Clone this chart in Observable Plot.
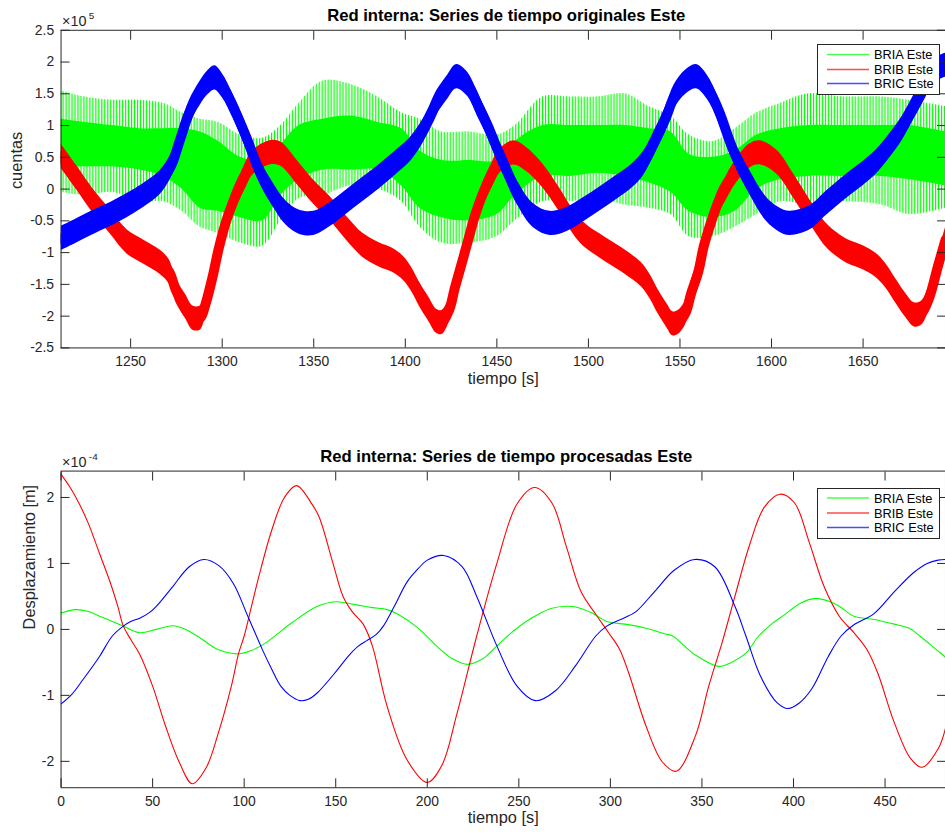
<!DOCTYPE html>
<html><head><meta charset="utf-8">
<script src="https://cdn.jsdelivr.net/npm/d3@7"></script>
<script src="https://cdn.jsdelivr.net/npm/@observablehq/plot@0.6"></script>
<style>
html,body{margin:0;padding:0;background:#fff;overflow:hidden;}
#wrap{position:relative;width:945px;height:837px;overflow:hidden;font-family:"Liberation Sans",Arial,sans-serif;}
#wrap svg{display:block;}
.legend{position:absolute;background:#fff;border:1px solid #262626;box-sizing:border-box;}
</style></head><body><div id="wrap"></div>
<script>
// ---------- series names / colours ----------
const seriesNames = ["BRIA Este", "BRIB Este", "BRIC Este"];
const seriesColors = ["#00ff00", "#ff0000", "#0000ff"];

// ---------- top panel: raw counts (units of 1e5) ----------
const topTitle = "Red interna: Series de tiempo originales Este";
const topXTicks = [1250, 1300, 1350, 1400, 1450, 1500, 1550, 1600, 1650];
const topYTicks = [-2.5, -2, -1.5, -1, -0.5, 0, 0.5, 1, 1.5, 2, 2.5];

const topRedT = [1212,1221,1230,1239,1248,1257,1266,1271,1275,1280,1284,1288,1291,1295,1298,1302,1306,1310,1317,1326,1332,1341,1350,1359,1368,1377,1386,1393,1399,1404,1408,1413,1417,1420,1424,1427,1431,1435,1438,1442,1447,1451,1459,1466,1475,1484,1493,1499,1506,1513,1520,1529,1534,1538,1543,1546,1549,1553,1556,1560,1563,1567,1571,1575,1579,1588,1594,1603,1612,1621,1630,1636,1642,1650,1657,1662,1668,1673,1678,1682,1686,1691,1695];
const topRedV = [0.52,0.16,-0.21,-0.52,-0.83,-0.99,-1.15,-1.3,-1.61,-1.85,-2.03,-2.03,-1.8,-1.35,-0.95,-0.52,-0.2,0.05,0.42,0.57,0.55,0.26,-0.05,-0.31,-0.62,-0.89,-1.04,-1.12,-1.25,-1.45,-1.67,-1.9,-2.08,-2.1,-1.9,-1.56,-1.15,-0.73,-0.42,-0.1,0.2,0.42,0.57,0.47,0.21,-0.16,-0.57,-0.75,-0.89,-1.02,-1.15,-1.35,-1.55,-1.77,-2.0,-2.12,-2.1,-1.95,-1.65,-1.3,-0.9,-0.52,-0.2,0.0,0.21,0.52,0.57,0.42,0.05,-0.36,-0.73,-0.88,-0.99,-1.08,-1.2,-1.35,-1.61,-1.82,-1.98,-1.95,-1.72,-1.2,-0.8];

const topBlueT = [1212,1221,1230,1239,1248,1257,1266,1272,1277,1282,1288,1292,1296,1300,1306,1313,1320,1328,1335,1342,1350,1359,1368,1377,1386,1395,1402,1408,1413,1417,1423,1428,1434,1440,1445,1450,1455,1461,1470,1479,1488,1497,1506,1515,1524,1530,1536,1542,1547,1553,1559,1565,1571,1579,1588,1597,1604,1610,1621,1630,1639,1648,1657,1665,1671,1677,1682,1687,1691,1695];
const topBlueV = [-0.78,-0.65,-0.52,-0.4,-0.26,-0.1,0.1,0.36,0.78,1.2,1.51,1.67,1.75,1.63,1.3,0.83,0.31,-0.1,-0.38,-0.52,-0.54,-0.4,-0.2,0.0,0.2,0.42,0.6,0.83,1.1,1.35,1.6,1.77,1.65,1.3,1.0,0.65,0.32,-0.05,-0.42,-0.54,-0.48,-0.33,-0.16,0.02,0.21,0.4,0.73,1.1,1.46,1.68,1.77,1.6,1.25,0.62,0.11,-0.31,-0.48,-0.54,-0.45,-0.22,0.0,0.2,0.42,0.7,0.94,1.25,1.51,1.78,1.9,1.95];

// noise half-amplitude of the thick red / blue traces (1e5 units)
const topTraceNoise = 0.19;

// green: dense core envelope and spike envelope
const topGreenT = [1212,1225,1240,1255,1268,1278,1288,1298,1310,1322,1332,1342,1355,1370,1385,1398,1408,1420,1435,1450,1460,1475,1490,1505,1520,1533,1545,1555,1568,1580,1592,1605,1620,1640,1660,1675,1695];
const topGreenCoreLo = [0.35,0.35,0.35,0.3,0.2,0.0,-0.3,-0.35,-0.45,-0.5,-0.1,0.15,0.3,0.3,0.3,0.05,-0.3,-0.45,-0.5,-0.4,-0.1,0.2,0.2,0.25,0.2,0.1,-0.05,-0.35,-0.45,-0.35,0.0,0.15,0.2,0.2,0.2,0.15,0.05];
const topGreenCoreHi = [1.1,1.05,1.0,0.95,0.95,0.95,0.9,0.75,0.5,0.45,0.7,1.0,1.1,1.15,1.05,0.95,0.6,0.45,0.45,0.45,0.75,1.0,1.0,1.0,1.0,0.95,0.9,0.55,0.5,0.6,0.85,0.95,1.0,1.0,1.0,1.0,0.9];
const topGreenSpikeLo = [-0.05,-0.1,-0.05,-0.2,-0.2,-0.35,-0.6,-0.7,-0.85,-0.9,-0.5,-0.15,-0.1,0.05,0.0,-0.2,-0.6,-0.85,-0.85,-0.75,-0.5,-0.2,-0.2,-0.15,-0.25,-0.3,-0.4,-0.75,-0.75,-0.6,-0.4,-0.2,-0.25,-0.2,-0.25,-0.4,-0.3];
const topGreenSpikeHi = [1.55,1.45,1.4,1.4,1.35,1.2,1.1,1.05,0.85,0.8,1.0,1.35,1.7,1.65,1.45,1.2,1.1,0.9,0.9,0.85,1.0,1.45,1.45,1.45,1.5,1.3,1.15,0.85,0.75,0.95,1.2,1.35,1.5,1.45,1.45,1.4,1.3];

// ---------- bottom panel: processed displacement (units of 1e-4 m) ----------
const botTitle = "Red interna: Series de tiempo procesadas Este";
const botXTicks = [0, 50, 100, 150, 200, 250, 300, 350, 400, 450];
const botYTicks = [-2, -1, 0, 1, 2];

const botGreenT = [0,8,15,21,28,34,43,52,61,68,76,86,97,104,112,126,140,150,160,170,178,184,195,205,214,222,230,238,246,254,262,268,276,281,290,298,308,319,330,334,346,359,366,374,381,388,395,404,412,419,425,433,444,455,463,469,479,483];
const botGreenV = [0.25,0.3,0.27,0.2,0.12,0.05,-0.05,0.0,0.055,0.0,-0.13,-0.31,-0.37,-0.32,-0.2,0.1,0.35,0.42,0.38,0.33,0.3,0.23,0.02,-0.25,-0.45,-0.53,-0.45,-0.25,-0.05,0.12,0.25,0.32,0.35,0.34,0.25,0.12,0.08,0.02,-0.07,-0.1,-0.38,-0.56,-0.5,-0.36,-0.1,0.08,0.22,0.4,0.47,0.43,0.35,0.2,0.15,0.08,0.02,-0.1,-0.33,-0.42];

const botRedT = [0,5,10,15,21,27,31,34,38,43,50,57,64.5,71.7,79,86,93,97,100,104,108,115,122,128.6,137,141,148.5,154,159,165,170,178,189,200,208,216,227,238,249,258.6,268,276,284,292,299,305,310,319.4,328.4,336,346.5,353.7,361,368,376,384,392.6,400.5,408.6,416.7,425,433,440,446,455,464,470.3,479,483];
const botRedV = [2.35,2.15,1.9,1.6,1.15,0.7,0.35,0.05,-0.15,-0.38,-0.86,-1.46,-2.01,-2.34,-2.11,-1.56,-0.86,-0.36,-0.1,0.35,0.8,1.5,2.0,2.18,1.9,1.7,1.0,0.5,0.27,0.08,-0.25,-1.16,-1.98,-2.32,-2.06,-1.3,-0.1,1.0,1.9,2.15,1.92,1.25,0.57,0.23,-0.05,-0.3,-0.66,-1.46,-2.01,-2.15,-1.61,-0.86,-0.2,0.5,1.28,1.85,2.05,1.92,1.32,0.65,0.2,-0.05,-0.3,-0.66,-1.41,-1.96,-2.09,-1.81,-1.5];

const botBlueT = [0,6,12,21,28,34,38,43,48,52,61,70,78,86,94,102,110,115,120,125,130.5,135,140,151,157,162,167,172,176,182,189,195,200,209,219,227,238,249,259,270,281,292,298,303,308,314,324,335,346,357,368,374,382,391,397,403,410,419,426,433,444,455,466,473,479,483];
const botBlueV = [-1.13,-0.98,-0.76,-0.41,-0.1,0.05,0.12,0.17,0.25,0.35,0.65,0.95,1.06,0.97,0.7,0.2,-0.31,-0.6,-0.86,-1.0,-1.08,-1.06,-0.96,-0.61,-0.4,-0.26,-0.17,-0.08,0.05,0.35,0.72,0.92,1.05,1.12,0.95,0.5,-0.25,-0.86,-1.08,-0.93,-0.55,-0.1,0.05,0.12,0.18,0.27,0.57,0.9,1.06,0.95,0.35,-0.1,-0.71,-1.11,-1.2,-1.12,-0.9,-0.41,-0.1,0.07,0.24,0.57,0.87,1.0,1.05,1.06];

// ---------- helpers ----------
const FONT = '"Liberation Sans", Arial, Helvetica, sans-serif';
const INK = "#262626";
const zip = (T, V) => T.map((t, i) => ({t, v: V[i]}));
const fmt = d => String(d);

function frameAndAxes(xTicks, yTicks) {
  return [
    Plot.axisX({anchor: "bottom", ticks: xTicks, tickSize: -9, tickPadding: 17, tickFormat: fmt, label: null, fontSize: 14}),
    Plot.axisX({anchor: "top", ticks: xTicks, tickSize: -9, tickFormat: () => "", label: null}),
    Plot.axisY({anchor: "left", ticks: yTicks, tickSize: -9, tickPadding: 16, tickFormat: fmt, label: null, fontSize: 14}),
    Plot.axisY({anchor: "right", ticks: yTicks, tickSize: -9, tickFormat: () => "", label: null}),
    Plot.frame({stroke: INK, strokeWidth: 1})
  ];
}
function decorations(title, expo, xLabel, yLabel, yLabelDx) {
  return [
    Plot.text([title], {text: d => d, frameAnchor: "top", dx: 3, dy: -9, lineAnchor: "bottom", fontWeight: "bold", fontSize: 16.8, fill: "#000"}),
    Plot.text(["×10"], {text: d => d, frameAnchor: "top-left", dx: 1, dy: -4, textAnchor: "start", lineAnchor: "bottom", fontSize: 14.5}),
    Plot.text([expo], {text: d => d, frameAnchor: "top-left", dx: 28, dy: -11, textAnchor: "start", lineAnchor: "bottom", fontSize: 10}),
    Plot.text([xLabel], {text: d => d, frameAnchor: "bottom", dy: 36, lineAnchor: "bottom", fontSize: 16.5}),
    Plot.text([yLabel], {text: d => d, frameAnchor: "left", dx: yLabelDx, rotate: -90, lineAnchor: "bottom", fontSize: 16.5})
  ];
}
// vertical stripe pattern that mimics the green trace's dense spikes
function addStripes(svg, id, color, period, width) {
  const defs = d3.select(svg).insert("defs", ":first-child");
  const p = defs.append("pattern").attr("id", id).attr("patternUnits", "userSpaceOnUse")
    .attr("width", period).attr("height", 8);
  p.append("rect").attr("x", 0).attr("y", 0).attr("width", width).attr("height", 8).attr("fill", color);
}

const wrap = document.getElementById("wrap");
const PW = 952; // axes extend a little past the window's right edge

// ---------- top plot ----------
const green = topGreenT.map((t, i) => ({t, lo: topGreenCoreLo[i], hi: topGreenCoreHi[i], slo: topGreenSpikeLo[i], shi: topGreenSpikeHi[i]}));
const red = zip(topRedT, topRedV);
const blue = zip(topBlueT, topBlueV);

function thickTrace(data, color) {
  return [
    Plot.areaY(data, {x: "t", y1: d => d.v - topTraceNoise, y2: d => d.v + topTraceNoise, fill: color, curve: "catmull-rom", clip: true}),
    Plot.line(data, {x: "t", y: "v", stroke: color, strokeWidth: 10, curve: "catmull-rom", clip: true})
  ];
}

const topPlot = Plot.plot({
  width: PW, height: 418, marginTop: 30, marginBottom: 68, marginLeft: 61, marginRight: 0,
  x: {domain: [1212, 1695]}, y: {domain: [-2.5, 2.5]},
  style: {fontFamily: FONT, color: INK, background: "transparent", overflow: "visible"},
  marks: [
    Plot.areaY(green, {x: "t", y1: "slo", y2: "shi", fill: "url(#gStripes)", curve: "catmull-rom", clip: true}),
    Plot.areaY(green, {x: "t", y1: "lo", y2: "hi", fill: seriesColors[0], curve: "catmull-rom", clip: true}),
    ...thickTrace(red, seriesColors[1]),
    ...thickTrace(blue, seriesColors[2]),
    ...frameAndAxes(topXTicks, topYTicks),
    ...decorations(topTitle, "5", "tiempo [s]", "cuentas", -39)
  ]
});
addStripes(topPlot, "gStripes", seriesColors[0], 3, 1.2);
wrap.appendChild(topPlot);

// ---------- bottom plot ----------
const botSeries = [zip(botGreenT, botGreenV), zip(botRedT, botRedV), zip(botBlueT, botBlueV)];
const botPlot = Plot.plot({
  width: PW, height: 419, marginTop: 56, marginBottom: 44, marginLeft: 61, marginRight: 0,
  x: {domain: [0, 483]}, y: {domain: [-2.4, 2.4]},
  style: {fontFamily: FONT, color: INK, background: "transparent", overflow: "visible"},
  marks: [
    ...botSeries.map((s, i) => Plot.line(s, {x: "t", y: "v", stroke: seriesColors[i], strokeWidth: 1.1, curve: "catmull-rom", clip: true})),
    ...frameAndAxes(botXTicks, botYTicks),
    ...decorations(botTitle, "-4", "tiempo [s]", "Desplazamiento [m]", -26)
  ]
});
wrap.appendChild(botPlot);

// ---------- legends ----------
function legend(left, top, rows) {
  const div = d3.select(wrap).append("div").attr("class", "legend")
    .style("left", left + "px").style("top", top + "px").style("width", "123px").style("height", "51px");
  const svg = div.append("svg").attr("width", 121).attr("height", 49).style("position", "absolute").style("left", "0").style("top", "0");
  seriesNames.forEach((name, i) => {
    const y = rows[i];
    svg.append("line").attr("x1", 9).attr("x2", 51).attr("y1", y).attr("y2", y)
      .attr("stroke", seriesColors[i]).attr("stroke-width", 1.3).attr("stroke-opacity", 0.7);
    svg.append("text").attr("x", 56).attr("y", y + 4.5).attr("font-size", 12.8)
      .attr("font-family", FONT).attr("fill", "#000").text(name);
  });
}
legend(817, 44, [9.5, 24.5, 38.5]);
legend(817, 488, [9, 24, 38.5]);
</script></body></html>
